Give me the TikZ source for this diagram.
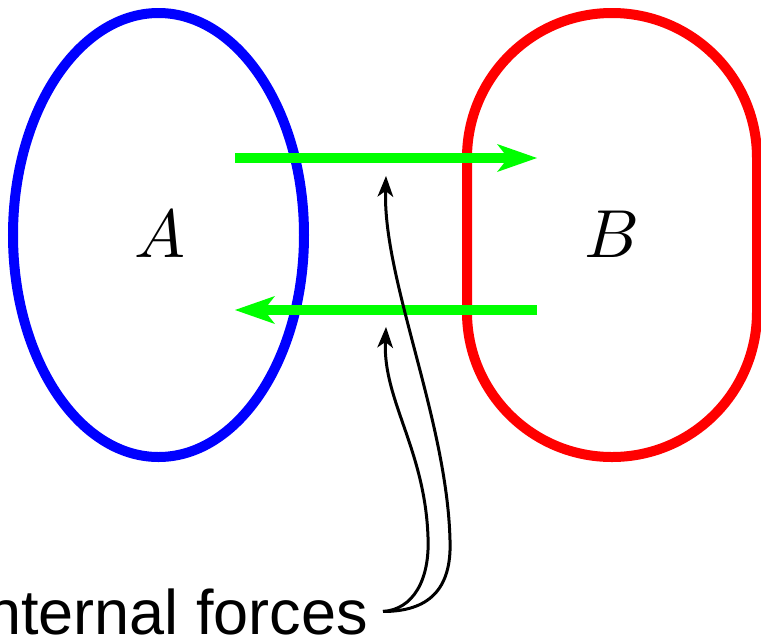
\documentclass[tikz,border=0pt]{standalone}
\usepackage{fontspec}
\newfontfamily\labfont{Liberation Sans}
\usetikzlibrary{arrows.meta,shapes.geometric}
\definecolor{fgreen}{RGB}{0,255,0}
\definecolor{fblue}{RGB}{0,0,255}
\definecolor{fred}{RGB}{255,0,0}
\tikzset{
  body/.style={draw, line width=10pt, inner sep=0pt, outer sep=0pt},
  letter/.style={inner sep=0pt, scale=6.8},
  force/.style={draw=fgreen, line width=10pt,
    -{Stealth[length=40pt, width=28pt, inset=11pt, line width=0pt]}},
  pointer/.style={draw=black, line width=3pt,
    -{Stealth[length=21pt, width=16pt, inset=6pt, line width=0pt]}},
}
\begin{document}
\begin{tikzpicture}[x=1pt, y=-1pt]
\useasboundingbox (0,0) rectangle (761,641);
\node[body, draw=fblue, ellipse, minimum width=291pt, minimum height=444pt] (ea) at (158.5,235) {};
\node[body, draw=fred, rectangle, rounded corners=144.9pt, minimum width=290pt, minimum height=444pt] (eb) at (612,235) {};
\node[letter] (la) at (160,234) {$A$};
\node[letter] (lb) at (612,234) {$B$};
\coordinate (t1) at (235,158);
\coordinate (t2) at (537,158);
\coordinate (b1) at (537,310);
\coordinate (b2) at (235,310);
\draw[force] (t1) -- (t2);
\draw[force] (b1) -- (b2);
\node[anchor=base east, inner xsep=15pt, inner ysep=0pt, font=\labfont\fontsize{63}{70}\selectfont] (lbl) at (383,634) {Internal forces};
\coordinate (p1) at (386,176);
\coordinate (p2) at (386,327);
\draw[pointer] (lbl.east) .. controls +(45,0) and (452,590) .. (450,540)
  .. controls (447,420) and (383,280) .. (p1);
\draw[pointer] (lbl.east) .. controls +(30,-2) and (430,580) .. (428,537)
  .. controls (425,450) and (383,400) .. (p2);
\end{tikzpicture}
\end{document}
